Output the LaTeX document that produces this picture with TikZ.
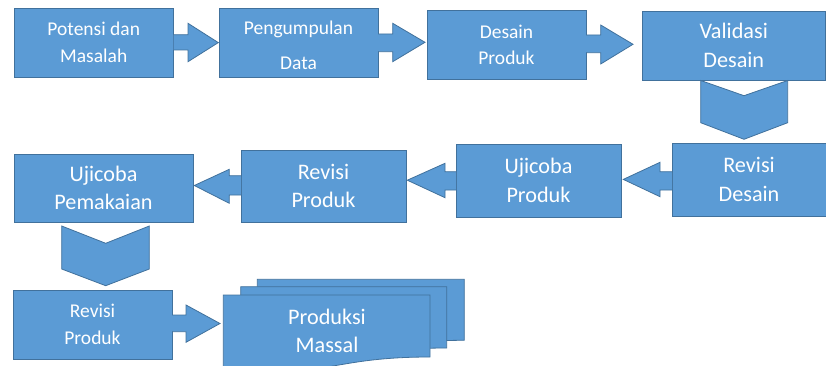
\documentclass[tikz,border=0pt]{standalone}
\usepackage{fontspec}
\setmainfont{Carlito}
\definecolor{boxfill}{HTML}{5B9BD5}
\definecolor{boxline}{HTML}{41719C}
\tikzset{
  shp/.style={fill=boxfill, draw=boxline, line width=0.8pt, line join=miter},
  box/.style={shp, rectangle, inner sep=0pt, outer sep=0pt, text=white, align=center},
  small/.style={font=\fontsize{19.5}{26.5}\selectfont},
  large/.style={font=\fontsize{22.2}{28.5}\selectfont},
  lbl/.style={text=white, align=center, inner sep=0pt},
}
\begin{document}
\begin{tikzpicture}[x=1pt,y=-1pt]
\useasboundingbox (0,0) rectangle (826,366);
\clip (0,0) rectangle (826,366);

% ---- boxes ----
\node[box,small,minimum width=159.5pt,minimum height=69pt] (b1) at (93.75,42.5) {Potensi dan\\Masalah};
\node[box,small,minimum width=159pt,minimum height=69pt] (b2) at (298.5,42.5) {};
\node[lbl,small] (b2t) at (298.5,45.5) {Pengumpulan\\[8pt]Data};
\node[box,small,minimum width=159pt,minimum height=69pt] (b3) at (506.5,45) {Desain\\Produk};
\node[box,large,minimum width=183.5pt,minimum height=69pt] (b4) at (733.75,45.5) {Validasi\\Desain};
\node[box,large,minimum width=154pt,minimum height=73pt] (b5) at (749,179.5) {Revisi\\Desain};
\node[box,large,minimum width=165pt,minimum height=73pt] (b6) at (538.5,180.5) {Ujicoba\\Produk};
\node[box,large,minimum width=165pt,minimum height=72pt] (b7) at (323.5,186) {Revisi\\Produk};
\node[box,large,minimum width=179pt,minimum height=68pt] (b8) at (103.5,188) {Ujicoba\\Pemakaian};
\node[box,small,minimum width=159pt,minimum height=69pt] (b9) at (92.5,324.5) {Revisi\\Produk};

% ---- right block arrows ----
\draw[shp] (b1.east |- 0,34.7) -- (188,34.7) -- (188,23.3) -- (218.3,42.6) -- (188,61.7) -- (188,50) -- (b1.east |- 0,50);
\draw[shp] (b2.east |- 0,34) -- (392.7,34) -- (392.7,23.3) -- (425,42.3) -- (392.7,61.7) -- (392.7,51.7) -- (b2.east |- 0,51.7);
\draw[shp] (b3.east |- 0,35) -- (600.7,35) -- (600.7,25) -- (633,44.3) -- (600.7,64) -- (600.7,52.7) -- (b3.east |- 0,52.7);
\draw[shp] (b9.east |- 0,315) -- (186,315) -- (186,305) -- (220,323.5) -- (186,342.3) -- (186,331.7) -- (b9.east |- 0,331.7);

% ---- left block arrows ----
\draw[shp] (b5.west |- 0,171.7) -- (660,171.7) -- (660,162.3) -- (623.3,179.4) -- (660,196.7) -- (660,190) -- (b5.west |- 0,190);
\draw[shp] (b6.west |- 0,171.7) -- (445,171.7) -- (445,163.3) -- (407.3,180.2) -- (445,197.7) -- (445,190) -- (b6.west |- 0,190);
\draw[shp] (b7.west |- 0,175.7) -- (229.3,175.7) -- (229.3,169.3) -- (194.3,185.5) -- (229.3,203.3) -- (229.3,195) -- (b7.west |- 0,195);

% ---- down chevrons ----
\draw[shp] (700.7,80.5) -- (744,95.7) -- (787.7,80.5) -- (787.7,122.7) -- (744,139.3) -- (700.7,122.7) -- cycle;
\draw[shp] (61.7,226) -- (105.7,243.3) -- (149.3,226) -- (149.3,269) -- (105.7,285.7) -- (61.7,269) -- cycle;

% ---- multidocument ----
\draw[shp] (257.3,279.3) -- (464.3,279.3) -- (464.3,340.3)
  .. controls (360.8,340.3) and (360.8,363.5) .. (257.3,350.3) -- cycle;
\draw[shp] (240.7,286.7) -- (446.7,286.7) -- (446.7,348)
  .. controls (343.7,348) and (343.7,371.3) .. (240.7,358) -- cycle;
\draw[shp] (223.3,295) -- (430,295) -- (430,357)
  .. controls (326.7,357) and (326.7,380.5) .. (223.3,367) -- cycle;
\node[lbl,large] (doc) at (327,331) {Produksi\\Massal};
\end{tikzpicture}
\end{document}
